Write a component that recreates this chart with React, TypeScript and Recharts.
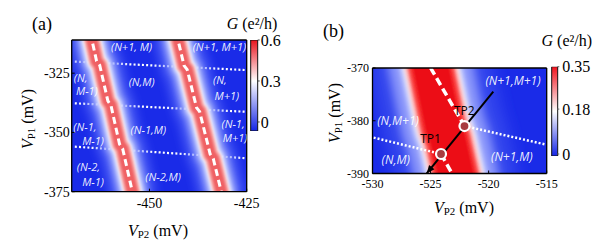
import React from 'react';
import { ComposedChart, Line, Scatter, Bar, XAxis, YAxis, ReferenceArea } from 'recharts';

const SERIF = "'Liberation Serif', 'Times New Roman', 'DejaVu Serif', serif";
const SANS = "'Open Sans', 'Noto Sans', 'DejaVu Sans', sans-serif";

type Pt = { x: number; y: number };
type Lbl = { x: number; y: number; text: string };

// ================= Panel (a) data =================
const aXTicks = [-450, -425];
const aYTicks = [-375, -350, -325];
const aXDomain: [number, number] = [-470, -425];
const aYDomain: [number, number] = [-375, -311];

const aBand1: Pt[] = [
  { x: -465.2, y: -308 },
  { x: -463.6, y: -319.9 },
  { x: -462.8, y: -321.6 },
  { x: -460.7, y: -336.7 },
  { x: -459.9, y: -338.6 },
  { x: -457.7, y: -354.9 },
  { x: -456.9, y: -356.8 },
  { x: -454.0, y: -378 },
];
const aBand2: Pt[] = [
  { x: -443.1, y: -308 },
  { x: -441.1, y: -321.8 },
  { x: -440.3, y: -323.5 },
  { x: -437.9, y: -339.5 },
  { x: -437.1, y: -341.2 },
  { x: -434.4, y: -359.1 },
  { x: -433.6, y: -361.0 },
  { x: -431.1, y: -378 },
];
const aDotted1: Pt[] = [{ x: -469.2, y: -320.1 }, { x: -425, y: -323.7 }];
const aDotted2: Pt[] = [{ x: -469.2, y: -337.7 }, { x: -425, y: -341.3 }];
const aDotted3: Pt[] = [{ x: -469.2, y: -356.0 }, { x: -425, y: -360.9 }];

const aLabels: Lbl[] = [
  { x: -454.6, y: -313.8, text: '(N+1, M)' },
  { x: -432.0, y: -313.8, text: '(N+1, M+1)' },
  { x: -452.0, y: -328.6, text: '(N,M)' },
  { x: -467.7, y: -326.9, text: '(N,' },
  { x: -466.1, y: -332.5, text: 'M-1)' },
  { x: -431.9, y: -327.6, text: '(N,' },
  { x: -430.1, y: -334.4, text: 'M+1)' },
  { x: -466.6, y: -347.3, text: '(N-1,' },
  { x: -464.5, y: -353.5, text: 'M-1)' },
  { x: -450.3, y: -348.7, text: '(N-1,M)' },
  { x: -428.5, y: -346.2, text: '(N-1,' },
  { x: -428.0, y: -352.3, text: 'M+1)' },
  { x: -465.7, y: -364.2, text: '(N-2,' },
  { x: -464.5, y: -370.8, text: 'M-1)' },
  { x: -446.5, y: -368.4, text: '(N-2,M)' },
];

const aCbTicks = [0, 0.3, 0.6];
const aCbRange: [number, number] = [-0.066, 0.6];

// ================= Panel (b) data =================
const bXTicks = [-530, -525, -520, -515];
const bYTicks = [-390, -380, -370];
const bXDomain: [number, number] = [-530, -515];
const bYDomain: [number, number] = [-390, -370];

const bBand: Pt[] = [
  { x: -525.33, y: -366 },
  { x: -523.93, y: -381.0 },
  { x: -523.5, y: -383.65 },
  { x: -522.44, y: -394 },
];
const bDash1: Pt[] = [{ x: -525.52, y: -368 }, { x: -522.08, y: -381.0 }];
const bDash2: Pt[] = [{ x: -524.1, y: -386.3 }, { x: -522.65, y: -392 }];
const bDotL: Pt[] = [{ x: -529.9, y: -383.2 }, { x: -524.1, y: -386.3 }];
const bDotR: Pt[] = [{ x: -522.08, y: -381.0 }, { x: -515.1, y: -384.5 }];
const bArrow: Pt[] = [{ x: -519.6, y: -374.5 }, { x: -525.33, y: -389.96 }];
const bTriplePoints: Pt[] = [{ x: -522.08, y: -381.0 }, { x: -524.1, y: -386.3 }];
const bTpLabels: Lbl[] = [
  { x: -522.1, y: -378.1, text: 'TP2' },
  { x: -525.0, y: -383.3, text: 'TP1' },
];
const bLabels: Lbl[] = [
  { x: -517.9, y: -372.3, text: '(N+1,M+1)' },
  { x: -527.8, y: -379.9, text: '(N,M+1)' },
  { x: -528.0, y: -387.3, text: '(N,M)' },
  { x: -518.0, y: -386.8, text: '(N+1,M)' },
];

const bCbTicks = [0, 0.18, 0.35];
const bCbRange: [number, number] = [-0.008, 0.35];

const aCbData = [{ name: 'G', span: aCbRange }];
const bCbData = [{ name: 'G', span: bCbRange }];

// ================= styles =================
type Layer = { w: number; c: string; o: number; blur: number };
const aLayers: Layer[] = [
  { w: 46, c: '#6a7cff', o: 0.55, blur: 5 },
  { w: 30, c: '#b8c2ff', o: 0.8, blur: 3 },
  { w: 20, c: '#ffffff', o: 1, blur: 2 },
  { w: 16, c: '#f8a8a8', o: 1, blur: 1.2 },
  { w: 11, c: '#ef6064', o: 1, blur: 0.8 },
];
const bLayers: Layer[] = [
  { w: 120, c: '#5062f4', o: 0.5, blur: 8 },
  { w: 84, c: '#a8b2ff', o: 0.75, blur: 5 },
  { w: 58, c: '#ffffff', o: 1, blur: 3 },
  { w: 50, c: '#ff9090', o: 1, blur: 2 },
  { w: 44, c: '#f83838', o: 1, blur: 1.5 },
  { w: 36, c: '#ec1014', o: 1, blur: 1 },
];
const BLUE = '#1a2be8';

const Defs = () => (
  <svg width={0} height={0} style={{ position: 'absolute', left: 0, top: 0 }}>
    <defs>
      {aLayers.map((l, i) => (
        <filter key={`fa${i}`} id={`a-blur-${i}`} filterUnits="userSpaceOnUse" x={-200} y={-200} width={800} height={700}>
          <feGaussianBlur stdDeviation={l.blur} />
        </filter>
      ))}
      {bLayers.map((l, i) => (
        <filter key={`fb${i}`} id={`b-blur-${i}`} filterUnits="userSpaceOnUse" x={-200} y={-200} width={800} height={700}>
          <feGaussianBlur stdDeviation={l.blur} />
        </filter>
      ))}
      <linearGradient id="cbA" x1="0" y1="0" x2="0" y2="1">
        <stop offset="0" stopColor="#e8141e" />
        <stop offset="0.45" stopColor="#ffffff" />
        <stop offset="1" stopColor="#1424e6" />
      </linearGradient>
      <linearGradient id="cbB" x1="0" y1="0" x2="0" y2="1">
        <stop offset="0" stopColor="#f0141e" />
        <stop offset="0.5" stopColor="#ffffff" />
        <stop offset="1" stopColor="#1424e6" />
      </linearGradient>
    </defs>
  </svg>
);

const bandLines = (key: string, data: Pt[], layers: Layer[], prefix: string) =>
  layers.map((l, i) => (
    <Line
      key={`${key}-${i}`}
      data={data}
      dataKey="y"
      type="linear"
      stroke={l.c}
      strokeOpacity={l.o}
      strokeWidth={l.w}
      strokeLinejoin="round"
      dot={false}
      activeDot={false}
      legendType="none"
      isAnimationActive={false}
      filter={`url(#${prefix}-blur-${i})`}
    />
  ));

const styledLine = (key: string, data: Pt[], stroke: string, width: number, dash?: string) => (
  <Line
    key={key}
    data={data}
    dataKey="y"
    type="linear"
    stroke={stroke}
    strokeWidth={width}
    strokeDasharray={dash}
    dot={false}
    activeDot={false}
    legendType="none"
    isAnimationActive={false}
  />
);

const AxisTitle = (p: { px: number; py: number; sub: string; vertical?: boolean; size?: number }) => {
  const size = p.size ?? 16;
  return (
    <text
      x={p.px}
      y={p.py}
      transform={p.vertical ? `rotate(-90 ${p.px} ${p.py})` : undefined}
      textAnchor="middle"
      dominantBaseline="central"
      fontFamily={SERIF}
      style={{ fontFamily: SERIF }}
      fontSize={size}
      fill="#000"
    >
      <tspan fontStyle="italic">V</tspan>
      <tspan fontSize={size * 0.68} dy={size * 0.22}>{p.sub}</tspan>
      <tspan dy={-size * 0.22}> (mV)</tspan>
    </text>
  );
};

const PlainText = (p: { px: number; py: number; text: string; size: number }) => (
  <text x={p.px} y={p.py} textAnchor="middle" dominantBaseline="central" fontFamily={SERIF} style={{ fontFamily: SERIF }} fontSize={p.size} fill="#000">
    {p.text}
  </text>
);

const CbTitle = (p: { px: number; py: number }) => (
  <text x={p.px} y={p.py} textAnchor="middle" fontFamily={SERIF} style={{ fontFamily: SERIF }} fontSize={16} fill="#000">
    <tspan fontStyle="italic">G</tspan>
    <tspan> (e²/h)</tspan>
  </text>
);

const makeRegionText = (size: number) => (props: any) => {
  const { cx, cy, payload } = props;
  return (
    <text
      x={cx}
      y={cy}
      textAnchor="middle"
      dominantBaseline="central"
      fontFamily={SANS}
      fontStyle="italic"
      fontSize={size}
      fill="#ffffff"
      fillOpacity={0.92}
    >
      {payload.text}
    </text>
  );
};
const RegionTextA = makeRegionText(11);
const RegionTextB = makeRegionText(12);

const TpText = (props: any) => {
  const { cx, cy, payload } = props;
  return (
    <text x={cx} y={cy} textAnchor="middle" dominantBaseline="central" fontFamily={SANS} fontSize={12} fill="#000">
      {payload.text}
    </text>
  );
};

const TpMark = (props: any) => (
  <circle cx={props.cx} cy={props.cy} r={5} fill="#a83c40" stroke="#ffffff" strokeWidth={2.2} />
);

const ArrowHead = (props: any) => {
  const { cx, cy, index, points } = props;
  if (index !== 1 || !points || points.length < 2) return <g key={`ah-${index}`} />;
  const p0 = points[0];
  const ang = Math.atan2(cy - p0.y, cx - p0.x);
  const L = 8;
  const W = 3.5;
  const bx = cx - L * Math.cos(ang);
  const by = cy - L * Math.sin(ang);
  const nx = -Math.sin(ang);
  const ny = Math.cos(ang);
  return (
    <polygon
      key={`ah-${index}`}
      points={`${cx},${cy} ${bx + nx * W},${by + ny * W} ${bx - nx * W},${by - ny * W}`}
      fill="#000"
    />
  );
};

const axisLine = { stroke: '#000', strokeWidth: 1.3 };

function PanelA() {
  return (
    <ComposedChart width={300} height={248} margin={{ top: 0, right: 0, bottom: 26.3, left: 0 }}>
      <ReferenceArea x1={aXDomain[0]} x2={aXDomain[1]} y1={aYDomain[0]} y2={aYDomain[1]} fill={BLUE} fillOpacity={1} stroke="none" />
      {styledLine('d1', aDotted1, '#ffffff', 2.2, '2 2.2')}
      {styledLine('d2', aDotted2, '#ffffff', 2.2, '2 2.2')}
      {styledLine('d3', aDotted3, '#ffffff', 2.2, '2 2.2')}
      {bandLines('b1', aBand1, aLayers, 'a')}
      {bandLines('b2', aBand2, aLayers, 'a')}
      {styledLine('dash1', aBand1, '#ffffff', 3, '7 4')}
      {styledLine('dash2', aBand2, '#ffffff', 3, '7 4')}
      <Scatter data={aLabels} dataKey="y" shape={RegionTextA} isAnimationActive={false} legendType="none" />
      <XAxis
        type="number"
        dataKey="x"
        domain={aXDomain}
        ticks={aXTicks}
        allowDataOverflow
        interval={0}
        height={30}
        axisLine={axisLine}
        tickLine={{ stroke: '#000' }}
        tickSize={-3}
        tickMargin={9.3}
        tick={{ fontSize: 14, fill: '#000', fontFamily: SERIF }}
        label={<AxisTitle px={158} py={230} sub="P2" />}
      />
      <YAxis
        type="number"
        dataKey="y"
        domain={aYDomain}
        ticks={aYTicks}
        allowDataOverflow
        interval={0}
        width={71.7}
        axisLine={axisLine}
        tickLine={{ stroke: '#000' }}
        tickSize={-3}
        tickMargin={5}
        tick={{ fontSize: 14, fill: '#000', fontFamily: SERIF }}
        label={<AxisTitle px={27} py={119} sub="P1" vertical />}
      />
      <XAxis
        xAxisId="top"
        orientation="top"
        type="number"
        domain={aXDomain}
        allowDataOverflow
        height={40}
        tick={false}
        tickLine={false}
        axisLine={axisLine}
        label={<PlainText px={42} py={23.5} text="(a)" size={18} />}
      />
      <YAxis
        yAxisId="right"
        orientation="right"
        type="number"
        domain={aYDomain}
        allowDataOverflow
        width={53.3}
        tick={false}
        tickLine={false}
        axisLine={axisLine}
      />
    </ComposedChart>
  );
}

function ColorbarA() {
  return (
    <ComposedChart
      width={90}
      height={150}
      data={aCbData}
      barCategoryGap={0}
      barGap={0}
      margin={{ top: 40, right: 0, bottom: 19, left: 40.7 }}
    >
      <XAxis type="category" dataKey="name" hide />
      <YAxis
        type="number"
        orientation="right"
        domain={aCbRange}
        allowDataOverflow
        ticks={aCbTicks}
        interval={0}
        width={42.3}
        axisLine={false}
        tickLine={{ stroke: '#444' }}
        tickSize={2}
        tickMargin={1}
        tick={{ fontSize: 16, fill: '#000', fontFamily: SERIF }}
        label={<CbTitle px={42} py={29} />}
      />
      <Bar dataKey="span" fill="url(#cbA)" stroke="#111" strokeWidth={1} isAnimationActive={false} legendType="none" />
    </ComposedChart>
  );
}

function PanelB() {
  return (
    <ComposedChart width={307} height={248} margin={{ top: 0, right: 0, bottom: 44.5, left: 0 }}>
      <ReferenceArea x1={bXDomain[0]} x2={bXDomain[1]} y1={bYDomain[0]} y2={bYDomain[1]} fill={BLUE} fillOpacity={1} stroke="none" />
      {bandLines('bb', bBand, bLayers, 'b')}
      {styledLine('bdl', bDotL, '#ffffff', 2.5, '2 2')}
      {styledLine('bdr', bDotR, '#ffffff', 2.5, '2 2')}
      {styledLine('bds1', bDash1, '#ffffff', 3.5, '8 4')}
      {styledLine('bds2', bDash2, '#ffffff', 3.5, '8 4')}
      <Line
        data={bArrow}
        dataKey="y"
        type="linear"
        stroke="#000"
        strokeWidth={2}
        dot={ArrowHead}
        activeDot={false}
        legendType="none"
        isAnimationActive={false}
      />
      <Scatter data={bTriplePoints} dataKey="y" shape={TpMark} isAnimationActive={false} legendType="none" />
      <Scatter data={bTpLabels} dataKey="y" shape={TpText} isAnimationActive={false} legendType="none" />
      <Scatter data={bLabels} dataKey="y" shape={RegionTextB} isAnimationActive={false} legendType="none" />
      <XAxis
        type="number"
        dataKey="x"
        domain={bXDomain}
        ticks={bXTicks}
        allowDataOverflow
        interval={0}
        height={30}
        axisLine={axisLine}
        tickLine={{ stroke: '#000' }}
        tickSize={-3}
        tickMargin={9}
        tick={{ fontSize: 12, fill: '#000', fontFamily: SERIF }}
        label={<AxisTitle px={164} py={207} sub="P2" />}
      />
      <YAxis
        type="number"
        dataKey="y"
        domain={bYDomain}
        ticks={bYTicks}
        allowDataOverflow
        interval={0}
        width={72.5}
        axisLine={axisLine}
        tickLine={{ stroke: '#000' }}
        tickSize={-3}
        tickMargin={6.5}
        tick={{ fontSize: 12, fill: '#000', fontFamily: SERIF }}
        label={<AxisTitle px={34} py={113} sub="P1" vertical />}
      />
      <XAxis
        xAxisId="top"
        orientation="top"
        type="number"
        domain={bXDomain}
        allowDataOverflow
        height={68}
        tick={false}
        tickLine={false}
        axisLine={axisLine}
        label={<PlainText px={33.5} py={30.5} text="(b)" size={18} />}
      />
      <YAxis
        yAxisId="right"
        orientation="right"
        type="number"
        domain={bYDomain}
        allowDataOverflow
        width={60.3}
        tick={false}
        tickLine={false}
        axisLine={axisLine}
      />
    </ComposedChart>
  );
}

function ColorbarB() {
  return (
    <ComposedChart
      width={87}
      height={170}
      data={bCbData}
      barCategoryGap={0}
      barGap={0}
      margin={{ top: 66.7, right: 0, bottom: 14, left: 31.7 }}
    >
      <XAxis type="category" dataKey="name" hide />
      <YAxis
        type="number"
        orientation="right"
        domain={bCbRange}
        allowDataOverflow
        ticks={bCbTicks}
        interval={0}
        width={49.7}
        axisLine={false}
        tickLine={{ stroke: '#666' }}
        tickSize={2}
        tickMargin={3}
        tick={{ fontSize: 16, fill: '#000', fontFamily: SERIF }}
        label={<CbTitle px={46.8} py={46} />}
      />
      <Bar dataKey="span" fill="url(#cbB)" stroke="#111" strokeWidth={1} isAnimationActive={false} legendType="none" />
    </ComposedChart>
  );
}

export default function App() {
  return (
    <div style={{ position: 'fixed', left: 0, top: 0, width: 607, height: 248, background: '#fff', overflow: 'hidden' }}>
      <Defs />
      <div style={{ position: 'absolute', left: 0, top: 0 }}>
        <PanelA />
      </div>
      <div style={{ position: 'absolute', left: 210, top: 0 }}>
        <ColorbarA />
      </div>
      <div style={{ position: 'absolute', left: 300, top: 0 }}>
        <PanelB />
      </div>
      <div style={{ position: 'absolute', left: 520, top: 0 }}>
        <ColorbarB />
      </div>
    </div>
  );
}
